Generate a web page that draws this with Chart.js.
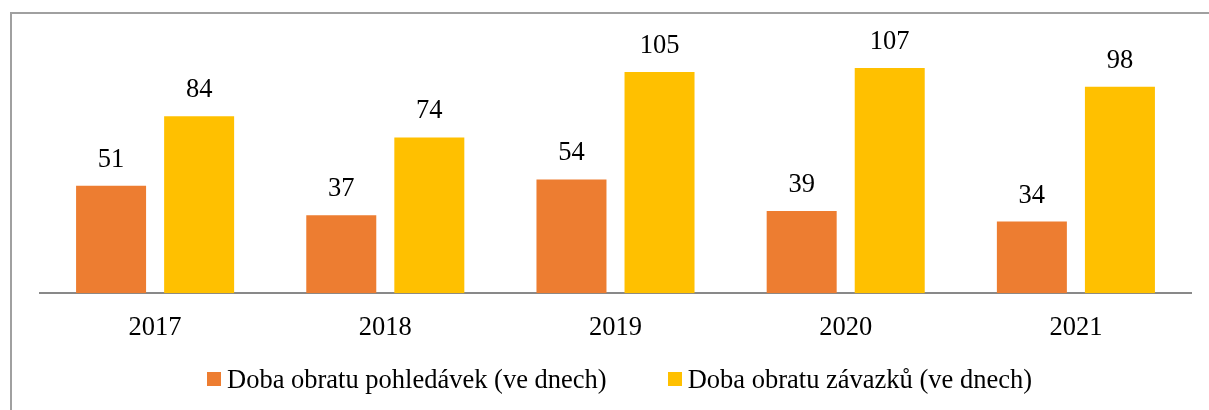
<!DOCTYPE html>
<html lang="cs">
<head>
    <meta charset="UTF-8">
    <title>Doba obratu</title>
    <script src="https://cdn.jsdelivr.net/npm/chart.js"></script>
    <style>
        body {
            margin: 0;
            background-color: #ffffff;
            font-family: 'Liberation Serif', 'Times New Roman', serif;
        }
        .wrap {
            position: relative;
            width: 1209px;
            height: 410px;
        }
        .frame {
            position: absolute;
            left: 10px;
            top: 12px;
            right: 0;
            bottom: 0;
            border-left: 2px solid #a0a0a0;
            border-top: 2px solid #a0a0a0;
            pointer-events: none;
        }
        .legend {
            position: absolute;
            left: 207px;
            top: 363px;
            display: flex;
            align-items: center;
            font-size: 26.5px;
            line-height: 32px;
            color: #000;
        }
        .legend .item {
            display: flex;
            align-items: center;
            margin-right: 61px;
        }
        .legend .box {
            width: 14px;
            height: 14px;
            margin-right: 6px;
        }
    </style>
</head>
<body>
    <div class="wrap">
        <canvas id="obratChart" width="1209" height="410"></canvas>
        <div class="frame"></div>
        <div class="legend" id="legend"></div>
    </div>
    <script>
        // data
        const years = ['2017', '2018', '2019', '2020', '2021'];
        const pohledavky = [51, 37, 54, 39, 34];
        const zavazky = [84, 74, 105, 107, 98];
        const seriesNames = ['Doba obratu pohledávek (ve dnech)', 'Doba obratu závazků (ve dnech)'];
        const seriesColors = ['#ED7D31', '#FFC000'];

        const serif = "'Liberation Serif', 'Times New Roman', serif";

        // draws the value above each bar
        const valueLabels = {
            id: 'valueLabels',
            afterDatasetsDraw(chart) {
                const ctx = chart.ctx;
                ctx.save();
                ctx.font = '26.5px ' + serif;
                ctx.fillStyle = '#000000';
                ctx.textAlign = 'center';
                ctx.textBaseline = 'middle';
                chart.data.datasets.forEach((ds, i) => {
                    chart.getDatasetMeta(i).data.forEach((bar, j) => {
                        ctx.fillText(ds.data[j], bar.x, bar.y - 26);
                    });
                });
                ctx.restore();
            }
        };

        const chart = new Chart(document.getElementById('obratChart'), {
            type: 'bar',
            data: {
                labels: years,
                datasets: [{
                    label: seriesNames[0],
                    data: pohledavky,
                    backgroundColor: seriesColors[0]
                }, {
                    label: seriesNames[1],
                    data: zavazky,
                    backgroundColor: seriesColors[1]
                }]
            },
            options: {
                responsive: false,
                animation: false,
                datasets: {
                    bar: {
                        categoryPercentage: 0.765,
                        barPercentage: 0.795
                    }
                },
                layout: {
                    padding: { left: 40, right: 18, top: 30, bottom: 47 }
                },
                scales: {
                    x: {
                        grid: { display: false, drawTicks: false },
                        border: { color: '#898989', width: 2 },
                        ticks: {
                            color: '#000000',
                            padding: 19,
                            font: { family: serif, size: 26.5 }
                        }
                    },
                    y: {
                        display: false,
                        min: 0,
                        max: 125
                    }
                },
                plugins: {
                    tooltip: { enabled: false },
                    legend: { display: false }
                }
            },
            plugins: [valueLabels]
        });

        // legend built from the datasets
        const legend = document.getElementById('legend');
        chart.data.datasets.forEach(ds => {
            const item = document.createElement('div');
            item.className = 'item';
            const box = document.createElement('span');
            box.className = 'box';
            box.style.backgroundColor = ds.backgroundColor;
            item.appendChild(box);
            item.appendChild(document.createTextNode(ds.label));
            legend.appendChild(item);
        });
    </script>
</body>
</html>
